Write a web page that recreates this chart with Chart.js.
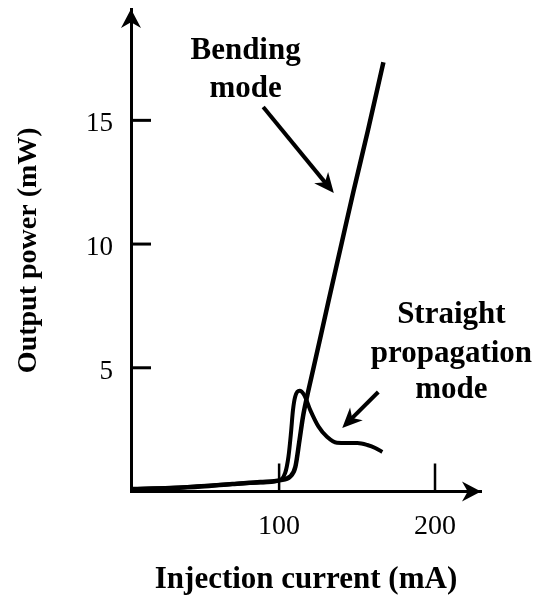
<!DOCTYPE html>
<html>
<head>
<meta charset="utf-8">
<script src="https://cdn.jsdelivr.net/npm/chart.js@4/dist/chart.umd.min.js"></script>
<style>
  html, body { margin: 0; padding: 0; background: #fff; }
  #box { width: 536px; height: 603px; }
</style>
</head>
<body>
<div id="box"><canvas id="powerChart"></canvas></div>
<script>
// Dados (corrente em mA, potência em mW)
const bendCurrent = [5.7, 30, 50, 70, 88, 100.7, 107, 110.4, 113.1, 115.3, 117.9, 122.1, 126.4, 131.7, 140, 147.6, 157, 166.9];
const bendPower = [0.1, 0.14, 0.2, 0.3, 0.38, 0.46, 0.6, 0.99, 2.08, 3.02, 3.83, 5.0, 6.2, 7.7, 10.0, 12.1, 14.6, 17.35];

const straightCurrent = [5.7, 30, 50, 70, 88, 98.6, 103.9, 106, 107.6, 108.9, 110.3, 113.1, 116.1, 120, 125.3, 130.7, 137.1, 143.7, 150.2, 156.6, 162, 166.2];
const straightPower = [0.1, 0.14, 0.22, 0.3, 0.36, 0.42, 0.75, 1.41, 2.36, 3.29, 3.83, 4.07, 3.9, 3.29, 2.62, 2.21, 1.97, 1.96, 1.96, 1.88, 1.75, 1.6];

const xTicks = [100, 200];
const yTicks = [5, 10, 15];

// Anotações (texto e setas) em coordenadas de dados
const notes = [
  { lines: ["Bending", "mode"], x: 78.5, y: [17.47, 15.94] },
  { lines: ["Straight", "propagation", "mode"], x: 210.5, y: [6.81, 5.23, 3.78] }
];
const arrows = [
  { from: [89.8, 15.54], to: [135.1, 12.06] },
  { from: [163.6, 4.02], to: [140.5, 2.57] }
];

const toPoints = (xs, ys) => xs.map((x, i) => ({ x: x, y: ys[i] }));

function arrowHead(ctx, x, y, ang, len, half) {
  ctx.save();
  ctx.translate(x, y);
  ctx.rotate(ang);
  ctx.beginPath();
  ctx.moveTo(0, 0);
  ctx.lineTo(-len, -half);
  ctx.lineTo(-len * 0.7, 0);
  ctx.lineTo(-len, half);
  ctx.closePath();
  ctx.fill();
  ctx.restore();
}

// Plugin: setas dos eixos, marcas dos ticks e anotações
const decorPlugin = {
  id: "decor",
  afterDraw(chart) {
    const ctx = chart.ctx;
    const xs = chart.scales.x;
    const ys = chart.scales.y;
    const area = chart.chartArea;
    ctx.save();
    ctx.fillStyle = "#000";
    ctx.strokeStyle = "#000";
    ctx.lineCap = "butt";

    // marcas dos ticks (para dentro)
    ctx.lineWidth = 3;
    yTicks.forEach((v) => {
      const py = ys.getPixelForValue(v);
      ctx.beginPath();
      ctx.moveTo(area.left, py);
      ctx.lineTo(area.left + 20, py);
      ctx.stroke();
    });
    ctx.lineWidth = 2.5;
    xTicks.forEach((v) => {
      const px = xs.getPixelForValue(v);
      ctx.beginPath();
      ctx.moveTo(px, area.bottom);
      ctx.lineTo(px, area.bottom - 28);
      ctx.stroke();
    });

    // pontas de seta dos eixos
    arrowHead(ctx, area.left, area.top, -Math.PI / 2, 19, 10);
    arrowHead(ctx, area.right, area.bottom, 0, 19, 10);

    // setas das anotações
    ctx.lineWidth = 4;
    arrows.forEach((a) => {
      const x1 = xs.getPixelForValue(a.from[0]);
      const y1 = ys.getPixelForValue(a.from[1]);
      const x2 = xs.getPixelForValue(a.to[0]);
      const y2 = ys.getPixelForValue(a.to[1]);
      const ang = Math.atan2(y2 - y1, x2 - x1);
      ctx.beginPath();
      ctx.moveTo(x1, y1);
      ctx.lineTo(x2 - 10 * Math.cos(ang), y2 - 10 * Math.sin(ang));
      ctx.stroke();
      arrowHead(ctx, x2, y2, ang, 20, 9);
    });

    // textos das anotações
    ctx.font = "bold 31px 'Liberation Serif', 'DejaVu Serif', serif";
    ctx.textAlign = "center";
    ctx.textBaseline = "alphabetic";
    notes.forEach((n) => {
      const px = xs.getPixelForValue(n.x);
      n.lines.forEach((t, i) => {
        ctx.fillText(t, px, ys.getPixelForValue(n.y[i]));
      });
    });
    ctx.restore();
  }
};

const ctx = document.getElementById("powerChart").getContext("2d");
const powerChart = new Chart(ctx, {
  type: "line",
  data: {
    datasets: [
      {
        label: "Bending mode",
        data: toPoints(bendCurrent, bendPower),
        borderColor: "#000",
        borderWidth: 4.5,
        pointRadius: 0,
        cubicInterpolationMode: "monotone",
        fill: false
      },
      {
        label: "Straight propagation mode",
        data: toPoints(straightCurrent, straightPower),
        borderColor: "#000",
        borderWidth: 4,
        pointRadius: 0,
        cubicInterpolationMode: "monotone",
        fill: false
      }
    ]
  },
  options: {
    responsive: true,
    maintainAspectRatio: false,
    animation: false,
    layout: { padding: { top: 9, right: 55, left: 0, bottom: 0 } },
    plugins: {
      legend: { display: false },
      tooltip: { enabled: false }
    },
    scales: {
      x: {
        type: "linear",
        min: 5,
        max: 229.5,
        afterFit(scale) {
          scale.height = 111.5;
          scale.paddingLeft = 0;
          scale.paddingRight = 0;
        },
        afterBuildTicks(scale) { scale.ticks = xTicks.map((v) => ({ value: v })); },
        grid: { display: false, drawTicks: false },
        border: { display: true, color: "#000", width: 3 },
        ticks: {
          color: "#000",
          padding: 18,
          maxRotation: 0,
          font: { family: "'Liberation Serif', serif", size: 28 }
        },
        title: {
          display: true,
          text: "Injection current (mA)",
          color: "#000",
          padding: { top: 0, bottom: 4 },
          font: { family: "'Liberation Serif', serif", size: 31, weight: "bold" }
        }
      },
      y: {
        type: "linear",
        min: 0,
        max: 19.5,
        afterFit(scale) {
          scale.width = 131;
          scale.paddingTop = 0;
          scale.paddingBottom = 0;
        },
        afterBuildTicks(scale) { scale.ticks = yTicks.map((v) => ({ value: v })); },
        grid: { display: false, drawTicks: false },
        border: { display: true, color: "#000", width: 3 },
        ticks: {
          color: "#000",
          padding: 18,
          labelOffset: 4,
          font: { family: "'Liberation Serif', serif", size: 27 }
        },
        title: {
          display: true,
          text: "Output power (mW)",
          color: "#000",
          padding: { top: 12, bottom: 0 },
          font: { family: "'Liberation Serif', serif", size: 28, weight: "bold" }
        }
      }
    }
  },
  plugins: [decorPlugin]
});
</script>
</body>
</html>
